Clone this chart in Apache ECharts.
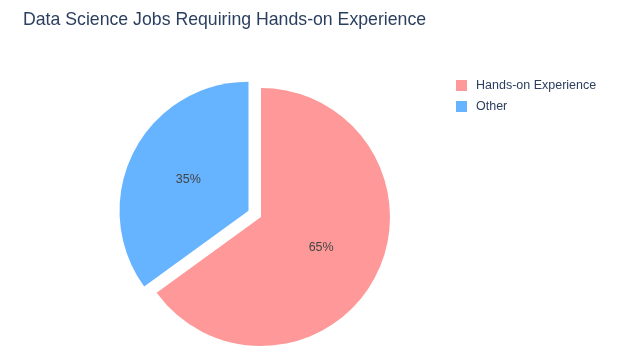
<!DOCTYPE html>
<html>
<head>
<meta charset="utf-8">
<script src="https://cdn.jsdelivr.net/npm/echarts@6/dist/echarts.min.js"></script>
<style>html,body{margin:0;padding:0;background:#fff}#c{width:640px;height:358px}</style>
</head>
<body>
<div id="c"></div>
<script>
var categories = ["Hands-on Experience", "Other"];
var values = [65, 35];
var colors = ["#FF9999", "#66B3FF"];
var pulled = [false, true];

var chart = echarts.init(document.getElementById('c'), null, {renderer: 'canvas'});
var data = categories.map(function (c, i) {
  return { name: c, value: values[i], selected: pulled[i], itemStyle: { color: colors[i] } };
});
chart.setOption({
  animation: false,
  backgroundColor: '#ffffff',
  title: {
    text: 'Data Science Jobs Requiring Hands-on Experience',
    left: 18, top: 6,
    textStyle: { fontFamily: 'Liberation Sans, Arial, sans-serif', fontSize: 17.7, fontWeight: 'normal', color: '#2a3f5f' }
  },
  legend: {
    orient: 'vertical',
    left: 451, top: 74,
    itemWidth: 11, itemHeight: 11, itemGap: 8,
    icon: 'rect',
    textStyle: { fontFamily: 'Liberation Sans, Arial, sans-serif', fontSize: 12.5, color: '#2a3f5f', padding: [0, 0, 0, 4] },
    data: categories
  },
  series: [{
    type: 'pie',
    center: [261, 217],
    radius: [0, 129],
    startAngle: 90,
    clockwise: true,
    selectedMode: 'single',
    selectedOffset: 14,
    avoidLabelOverlap: false,
    label: {
      show: true, position: 'inner',
      formatter: function (p) { return Math.round(p.percent) + '%'; },
      fontFamily: 'Liberation Sans, Arial, sans-serif', fontSize: 12.5, color: '#444444'
    },
    labelLine: { show: false },
    emphasis: { disabled: true },
    select: { disabled: false },
    itemStyle: { borderWidth: 0 },
    data: data
  }]
});
</script>
</body>
</html>
